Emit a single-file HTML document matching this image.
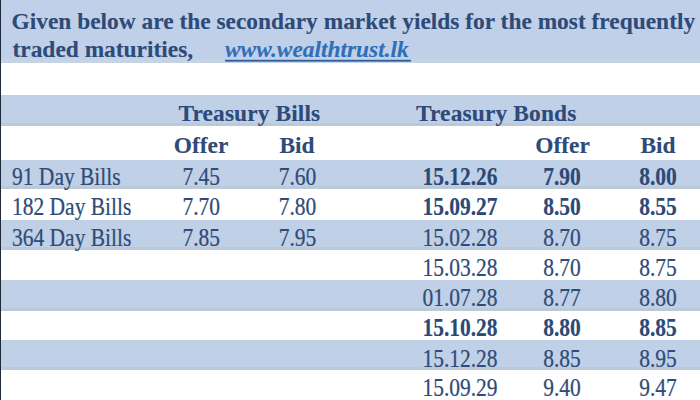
<!DOCTYPE html>
<html><head><meta charset="utf-8">
<style>
html,body{margin:0;padding:0;width:700px;height:400px;overflow:hidden;background:#fff;}
svg{display:block;position:absolute;left:0;top:0;}
text{font-family:"Liberation Serif",serif;}
.h{font-weight:bold;font-size:23.4px;fill:#2d4a78;stroke:#2d4a78;stroke-width:0.12px;}
.d{font-size:21.5px;fill:#2f4b78;stroke:#2f4b78;stroke-width:0.2px;}
.db{font-size:21.5px;font-weight:bold;fill:#2c4876;stroke:#2c4876;stroke-width:0.15px;}
</style></head><body>
<svg width="700" height="400" viewBox="0 0 700 400">

<rect x="0" y="0" width="700" height="63" fill="#c0d0e8"/>
<rect x="0" y="59" width="700" height="4" fill="#c6d3e2"/>
<rect x="0" y="63" width="700" height="32" fill="#fff"/>
<rect x="0" y="95" width="700" height="31" fill="#bfd0e7"/>
<rect x="0" y="123" width="700" height="3" fill="#bccad8"/>
<rect x="0" y="126" width="700" height="34" fill="#fff"/>
<rect x="0" y="160" width="700" height="29" fill="#bfd0e7"/>
<rect x="0" y="186" width="700" height="3" fill="#bccad8"/>
<rect x="0" y="189" width="700" height="31" fill="#fff"/>
<rect x="0" y="220" width="700" height="30" fill="#bfd0e7"/>
<rect x="0" y="247" width="700" height="3" fill="#bccad8"/>
<rect x="0" y="250" width="700" height="30" fill="#fff"/>
<rect x="0" y="280" width="700" height="31" fill="#bfd0e7"/>
<rect x="0" y="308" width="700" height="3" fill="#bccad8"/>
<rect x="0" y="311" width="700" height="29" fill="#fff"/>
<rect x="0" y="340" width="700" height="30" fill="#bfd0e7"/>
<rect x="0" y="367" width="700" height="3" fill="#bccad8"/>
<rect x="0" y="370" width="700" height="30" fill="#fff"/>
<rect x="0" y="0" width="1" height="400" fill="#1f2a38"/>
<text class="h" transform="translate(11.5,29.4) scale(1,1.03)" x="0" y="0">Given below are the secondary market yields for the most frequently</text>
<text class="h" transform="translate(12.5,56.5) scale(1,1.03)" x="0" y="0">traded maturities,</text>
<text class="h" transform="translate(225,56.5) scale(1,1.03)" x="0" y="0" style="font-style:italic;fill:#2e6fb8;stroke:#2e6fb8">www.wealthtrust.lk</text>
<rect x="225" y="59.8" width="186" height="1.8" fill="#2c5c9c"/>
<text class="h" transform="translate(178.5,121) scale(1,1.0)" x="0" y="0" letter-spacing="0.12">Treasury Bills</text>
<text class="h" transform="translate(416,121) scale(1,1.0)" x="0" y="0" letter-spacing="0.15">Treasury Bonds</text>
<text class="h" text-anchor="middle" transform="translate(201,153) scale(1,1.0)" x="0" y="0">Offer</text>
<text class="h" text-anchor="middle" transform="translate(297,153) scale(1,1.0)" x="0" y="0">Bid</text>
<text class="h" text-anchor="middle" transform="translate(562.5,153) scale(1,1.0)" x="0" y="0">Offer</text>
<text class="h" text-anchor="middle" transform="translate(658,153) scale(1,1.0)" x="0" y="0">Bid</text>
<text class="d" transform="translate(12,184.6) scale(1,1.15)" x="0" y="0">91 Day Bills</text>
<text class="d" text-anchor="middle" transform="translate(201.3,184.6) scale(1,1.15)" x="0" y="0">7.45</text>
<text class="d" text-anchor="middle" transform="translate(297.5,184.6) scale(1,1.15)" x="0" y="0">7.60</text>
<text class="d" transform="translate(12,214.8) scale(1,1.15)" x="0" y="0">182 Day Bills</text>
<text class="d" text-anchor="middle" transform="translate(201.3,214.8) scale(1,1.15)" x="0" y="0">7.70</text>
<text class="d" text-anchor="middle" transform="translate(297.5,214.8) scale(1,1.15)" x="0" y="0">7.80</text>
<text class="d" transform="translate(12,245.7) scale(1,1.15)" x="0" y="0">364 Day Bills</text>
<text class="d" text-anchor="middle" transform="translate(201.3,245.7) scale(1,1.15)" x="0" y="0">7.85</text>
<text class="d" text-anchor="middle" transform="translate(297.5,245.7) scale(1,1.15)" x="0" y="0">7.95</text>
<text class="db" text-anchor="middle" transform="translate(460,184.6) scale(1,1.15)" x="0" y="0">15.12.26</text>
<text class="db" text-anchor="middle" transform="translate(562,184.6) scale(1,1.15)" x="0" y="0">7.90</text>
<text class="db" text-anchor="middle" transform="translate(658,184.6) scale(1,1.15)" x="0" y="0">8.00</text>
<text class="db" text-anchor="middle" transform="translate(460,214.8) scale(1,1.15)" x="0" y="0">15.09.27</text>
<text class="db" text-anchor="middle" transform="translate(562,214.8) scale(1,1.15)" x="0" y="0">8.50</text>
<text class="db" text-anchor="middle" transform="translate(658,214.8) scale(1,1.15)" x="0" y="0">8.55</text>
<text class="d" text-anchor="middle" transform="translate(460,245.7) scale(1,1.15)" x="0" y="0">15.02.28</text>
<text class="d" text-anchor="middle" transform="translate(562,245.7) scale(1,1.15)" x="0" y="0">8.70</text>
<text class="d" text-anchor="middle" transform="translate(658,245.7) scale(1,1.15)" x="0" y="0">8.75</text>
<text class="d" text-anchor="middle" transform="translate(460,275.7) scale(1,1.15)" x="0" y="0">15.03.28</text>
<text class="d" text-anchor="middle" transform="translate(562,275.7) scale(1,1.15)" x="0" y="0">8.70</text>
<text class="d" text-anchor="middle" transform="translate(658,275.7) scale(1,1.15)" x="0" y="0">8.75</text>
<text class="d" text-anchor="middle" transform="translate(460,305.7) scale(1,1.15)" x="0" y="0">01.07.28</text>
<text class="d" text-anchor="middle" transform="translate(562,305.7) scale(1,1.15)" x="0" y="0">8.77</text>
<text class="d" text-anchor="middle" transform="translate(658,305.7) scale(1,1.15)" x="0" y="0">8.80</text>
<text class="db" text-anchor="middle" transform="translate(460,336.0) scale(1,1.15)" x="0" y="0">15.10.28</text>
<text class="db" text-anchor="middle" transform="translate(562,336.0) scale(1,1.15)" x="0" y="0">8.80</text>
<text class="db" text-anchor="middle" transform="translate(658,336.0) scale(1,1.15)" x="0" y="0">8.85</text>
<text class="d" text-anchor="middle" transform="translate(460,366.5) scale(1,1.15)" x="0" y="0">15.12.28</text>
<text class="d" text-anchor="middle" transform="translate(562,366.5) scale(1,1.15)" x="0" y="0">8.85</text>
<text class="d" text-anchor="middle" transform="translate(658,366.5) scale(1,1.15)" x="0" y="0">8.95</text>
<text class="d" text-anchor="middle" transform="translate(460,396.0) scale(1,1.15)" x="0" y="0">15.09.29</text>
<text class="d" text-anchor="middle" transform="translate(562,396.0) scale(1,1.15)" x="0" y="0">9.40</text>
<text class="d" text-anchor="middle" transform="translate(658,396.0) scale(1,1.15)" x="0" y="0">9.47</text>
</svg></body></html>
